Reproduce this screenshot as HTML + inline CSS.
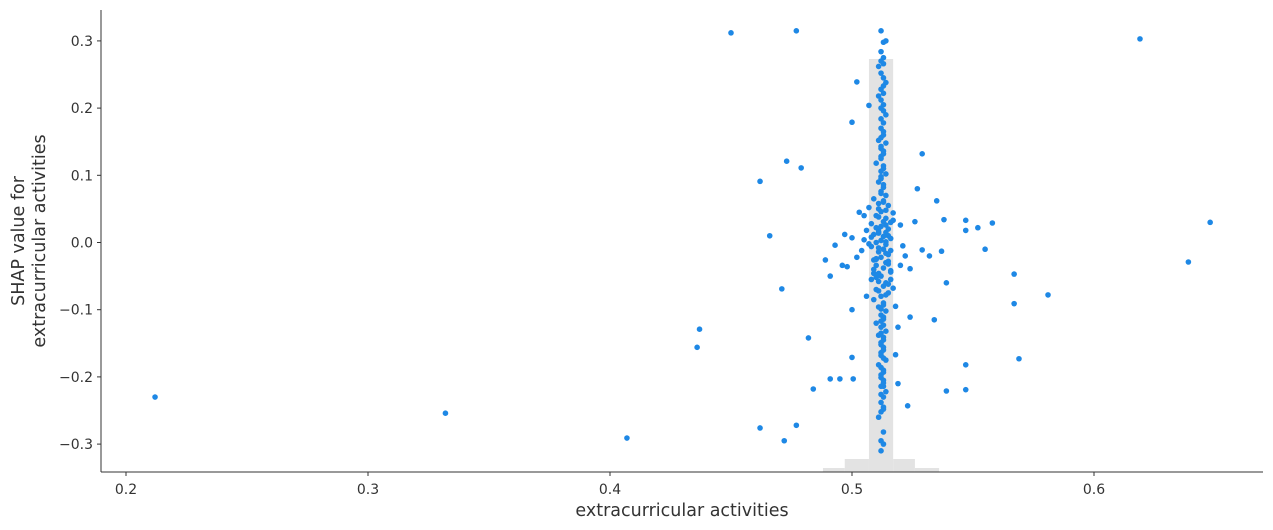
<!DOCTYPE html>
<html><head><meta charset="utf-8"><style>
html,body{margin:0;padding:0;background:#fff;}
svg{display:block;font-family:"DejaVu Sans","Liberation Sans",sans-serif;}
</style></head><body>
<svg id="chart" width="1273" height="530" viewBox="0 0 1273 530" xmlns="http://www.w3.org/2000/svg">
<g id="hist"></g>
<g id="pts"></g>
<g id="axes"></g>
</svg>
<script>
const xTicks=[0.2,0.3,0.4,0.5,0.6];
const yTicks=[-0.3,-0.2,-0.1,0.0,0.1,0.2,0.3];
const histEdges=[0.488,0.497,0.507,0.517,0.526,0.536];
const histHeights=[4,13,413,13,4];
const outX=[0.212,0.332,0.407,0.436,0.437,0.450,0.462,0.462,0.466,0.471,0.472,0.473,0.477,0.477,0.479,0.482,0.484,0.489,0.491,0.495,0.5005,0.491,0.493,0.496,0.500,0.500,0.500,0.500,0.502,0.507,0.529,0.527,0.535,0.526,0.538,0.547,0.547,0.552,0.558,0.529,0.537,0.532,0.555,0.524,0.539,0.567,0.567,0.581,0.534,0.524,0.523,0.539,0.547,0.547,0.569,0.619,0.648,0.639,0.519,0.518,0.498,0.503,0.505,0.497,0.506,0.504,0.502,0.520,0.521,0.516,0.518,0.520,0.522,0.517,0.519];
const outY=[-0.230,-0.254,-0.291,-0.156,-0.129,0.312,0.091,-0.276,0.010,-0.069,-0.295,0.121,0.315,-0.272,0.111,-0.142,-0.218,-0.026,-0.203,-0.203,-0.203,-0.050,-0.004,-0.034,0.007,-0.100,-0.171,0.179,0.239,0.204,0.132,0.080,0.062,0.031,0.034,0.033,0.018,0.022,0.029,-0.011,-0.013,-0.020,-0.010,-0.039,-0.060,-0.047,-0.091,-0.078,-0.115,-0.111,-0.243,-0.221,-0.182,-0.219,-0.173,0.303,0.030,-0.029,-0.210,-0.167,-0.036,0.045,0.040,0.012,0.018,-0.012,-0.022,0.026,-0.005,-0.055,-0.095,-0.034,-0.020,0.033,-0.126];
const colX=[0.512,0.513,0.514,0.513,0.512,0.511,0.513,0.514,0.512,0.513,0.511,0.513,0.512,0.514,0.513,0.512,0.513,0.511,0.514,0.512,0.513,0.512,0.510,0.513,0.514,0.512,0.511,0.513,0.512,0.514,0.509,0.513,0.515,0.511,0.512,0.510,0.514,0.513,0.508,0.512,0.515,0.511,0.509,0.513,0.516,0.512,0.510,0.514,0.508,0.513,0.511,0.515,0.512,0.509,0.514,0.510,0.513,0.516,0.511,0.512,0.508,0.514,0.513,0.510,0.515,0.512,0.509,0.513,0.511,0.514,0.512,0.513,0.510,0.512,0.514,0.511,0.513,0.512,0.513,0.512,0.514,0.511,0.513,0.512,0.513,0.512,0.514,0.513,0.512,0.513,0.512,0.511,0.513,0.512,0.513,0.512,0.513,0.512,0.512,0.513,0.511,0.516,0.507,0.515,0.509,0.517,0.506,0.514,0.508,0.516,0.510,0.505,0.517,0.511,0.507];
const colY=[0.315,0.298,0.300,0.275,0.270,0.262,0.245,0.238,0.228,0.222,0.218,0.205,0.200,0.190,0.178,0.170,0.160,0.152,0.148,0.140,0.132,0.125,0.118,0.110,0.102,0.095,0.090,0.082,0.076,0.070,0.065,0.060,0.055,0.050,0.046,0.040,0.036,0.031,0.028,0.024,0.020,0.016,0.012,0.009,0.006,0.003,0.000,-0.003,-0.006,-0.010,-0.014,-0.018,-0.022,-0.026,-0.030,-0.034,-0.038,-0.042,-0.046,-0.050,-0.055,-0.060,-0.065,-0.070,-0.075,-0.080,-0.085,-0.090,-0.096,-0.102,-0.108,-0.114,-0.120,-0.126,-0.132,-0.138,-0.145,-0.152,-0.160,-0.168,-0.175,-0.182,-0.190,-0.197,-0.205,-0.214,-0.222,-0.230,-0.238,-0.245,-0.252,-0.260,-0.282,-0.295,-0.300,-0.310,-0.214,0.098,0.143,0.062,0.020,0.030,-0.002,-0.032,-0.046,-0.068,-0.080,0.015,0.008,-0.012,-0.025,0.004,0.044,-0.058,0.052];
const col2X=[0.512,0.513,0.512,0.513,0.512,0.513,0.512,0.513,0.512,0.513,0.512,0.513,0.512,0.513,0.512,0.513,0.512,0.513,0.512,0.513,0.512,0.513,0.512,0.513,0.512,0.513,0.512,0.513,0.512,0.513,0.511,0.514,0.511,0.514,0.511,0.514,0.511,0.514,0.510,0.515,0.510,0.515,0.509,0.516,0.510,0.515,0.511,0.514,0.512,0.513];
const col2Y=[0.284,0.266,0.252,0.233,0.212,0.196,0.184,0.165,0.156,0.136,0.128,0.114,0.106,0.086,0.073,-0.093,-0.099,-0.111,-0.117,-0.123,-0.135,-0.141,-0.149,-0.156,-0.164,-0.172,-0.186,-0.193,-0.201,-0.209,0.058,0.048,0.038,0.026,0.014,0.001,-0.008,-0.016,-0.024,-0.028,0.022,0.010,-0.040,-0.044,-0.052,-0.062,-0.072,-0.078,-0.226,-0.248];
const X0=852,XS=2420,Y0=242.5,YS=672,LEFT=101,RIGHT=1263,TOP=10,BOT=472;
const xs=v=>X0+(v-0.5)*XS, ys=v=>Y0-v*YS;
const NS="http://www.w3.org/2000/svg";
function mk(t,a,p){const e=document.createElementNS(NS,t);for(const k in a)e.setAttribute(k,a[k]);p.appendChild(e);return e;}
const hist=document.getElementById('hist');
for(let i=0;i<histHeights.length;i++){
  const x1=xs(histEdges[i]),x2=xs(histEdges[i+1]);
  const r=mk('rect',{x:x1,y:BOT-histHeights[i],width:x2-x1,height:histHeights[i],fill:'#e3e3e3'},hist);
  
  
}
const pts=document.getElementById('pts');
function dot(x,y){const c=mk('circle',{cx:xs(x),cy:ys(y),r:2.8,fill:'#1E88E5'},pts);
  
  }
for(let i=0;i<outX.length;i++)dot(outX[i],outY[i]);
for(let i=0;i<colX.length;i++)dot(colX[i],colY[i]);
for(let i=0;i<col2X.length;i++)dot(col2X[i],col2Y[i]);
const ax=document.getElementById('axes');
mk('line',{x1:LEFT,y1:TOP,x2:LEFT,y2:BOT,stroke:'#333','stroke-width':1},ax);
mk('line',{x1:LEFT,y1:BOT,x2:RIGHT,y2:BOT,stroke:'#333','stroke-width':1},ax);
xTicks.forEach(v=>{const x=xs(v);mk('line',{x1:x,y1:BOT,x2:x,y2:BOT+4,stroke:'#333'},ax);
  const t=mk('text',{x:x,y:BOT+22,'text-anchor':'middle','font-size':14,fill:'#333'},ax);t.textContent=v.toFixed(1);
  
  });
yTicks.forEach(v=>{const y=ys(v);mk('line',{x1:LEFT-4,y1:y,x2:LEFT,y2:y,stroke:'#333'},ax);
  const t=mk('text',{x:LEFT-8,y:y+5,'text-anchor':'end','font-size':14,fill:'#333'},ax);t.textContent=(v<0?'\u2212':'')+Math.abs(v).toFixed(1);
  
  });
const xt=mk('text',{x:682,y:516,'text-anchor':'middle','font-size':17.5,fill:'#333'},ax);xt.textContent='extracurricular activities';


const yt=mk('text',{transform:'translate(24,241) rotate(-90)','text-anchor':'middle','font-size':17.5,fill:'#333'},ax);


const s1=mk('tspan',{x:0,dy:0},yt);s1.textContent='SHAP value for';
const s2=mk('tspan',{x:0,dy:21},yt);s2.textContent='extracurricular activities';
</script>
</body></html>
